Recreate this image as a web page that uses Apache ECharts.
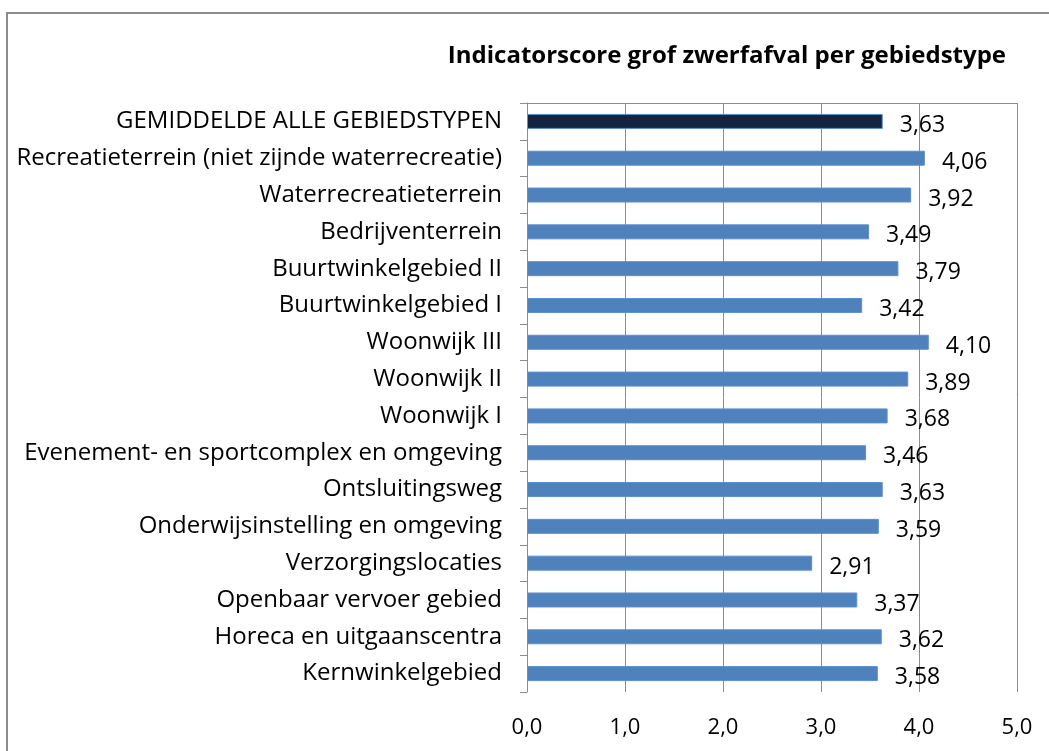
<!DOCTYPE html>
<html>
<head>
<meta charset="utf-8">
<script src="https://cdn.jsdelivr.net/npm/echarts@6/dist/echarts.min.js"></script>
<style>html,body{margin:0;padding:0;background:#fff;}#c{width:1049px;height:751px;}</style>
</head>
<body>
<div id="c"></div>
<script>
var categories = [
  "GEMIDDELDE ALLE GEBIEDSTYPEN",
  "Recreatieterrein (niet zijnde waterrecreatie)",
  "Waterrecreatieterrein",
  "Bedrijventerrein",
  "Buurtwinkelgebied II",
  "Buurtwinkelgebied I",
  "Woonwijk III",
  "Woonwijk II",
  "Woonwijk I",
  "Evenement- en sportcomplex en omgeving",
  "Ontsluitingsweg",
  "Onderwijsinstelling en omgeving",
  "Verzorgingslocaties",
  "Openbaar vervoer gebied",
  "Horeca en uitgaanscentra",
  "Kernwinkelgebied"
];
var values = [3.63, 4.06, 3.92, 3.49, 3.79, 3.42, 4.10, 3.89, 3.68, 3.46, 3.63, 3.59, 2.91, 3.37, 3.62, 3.58];
var titleText = "Indicatorscore grof zwerfafval per gebiedstype";

var FONT = "Open Sans";
var chart = echarts.init(document.getElementById('c'), null, {renderer: 'canvas'});
chart.setOption({
  animation: false,
  backgroundColor: '#fff',
  title: {
    text: titleText,
    right: 38, top: 39,
    textStyle: {fontFamily: FONT, fontSize: 24, fontWeight: 'bold', color: '#000'}
  },
  grid: {left: 527, right: 32, top: 103, bottom: 59, containLabel: false},
  xAxis: [{
    type: 'value', min: 0, max: 5, interval: 1,
    axisLine: {show: false},
    axisTick: {show: false},
    splitLine: {show: true, lineStyle: {color: '#8c8c8c', width: 1}},
    axisLabel: {
      fontFamily: FONT, fontSize: 22, color: '#000', margin: 25,
      formatter: function (v) { return v.toFixed(1).replace('.', ','); }
    }
  }, {
    type: 'value', min: 0, max: 5, interval: 1, position: 'top',
    axisLine: {show: true, lineStyle: {color: '#8c8c8c', width: 1}},
    axisTick: {show: false}, axisLabel: {show: false}, splitLine: {show: false}
  }],
  yAxis: {
    type: 'category', data: categories, inverse: true,
    axisLine: {show: true, lineStyle: {color: '#8c8c8c', width: 1}},
    axisTick: {show: true, length: 7, lineStyle: {color: '#8c8c8c'}},
    axisLabel: {fontFamily: FONT, fontSize: 24, color: '#000', margin: 25}
  },
  series: [{
    type: 'bar', data: values, xAxisIndex: 0, barWidth: 15,
    itemStyle: {
      color: function (p) { return p.dataIndex === 0 ? '#14243F' : '#4F81BD'; },
      borderColor: '#5B8FD0', borderWidth: 1
    },
    label: {
      show: true, position: 'right', distance: 17,
      fontFamily: FONT, fontSize: 23, color: '#000', offset: [0, 4],
      formatter: function (p) { return p.value.toFixed(2).replace('.', ','); }
    }
  }],
  graphic: [{
    type: 'rect', shape: {x: 7, y: 13, width: 1100, height: 800},
    style: {fill: 'none', stroke: '#8c8c8c', lineWidth: 2}, silent: true, z: 100
  }]
});
</script>
</body>
</html>
